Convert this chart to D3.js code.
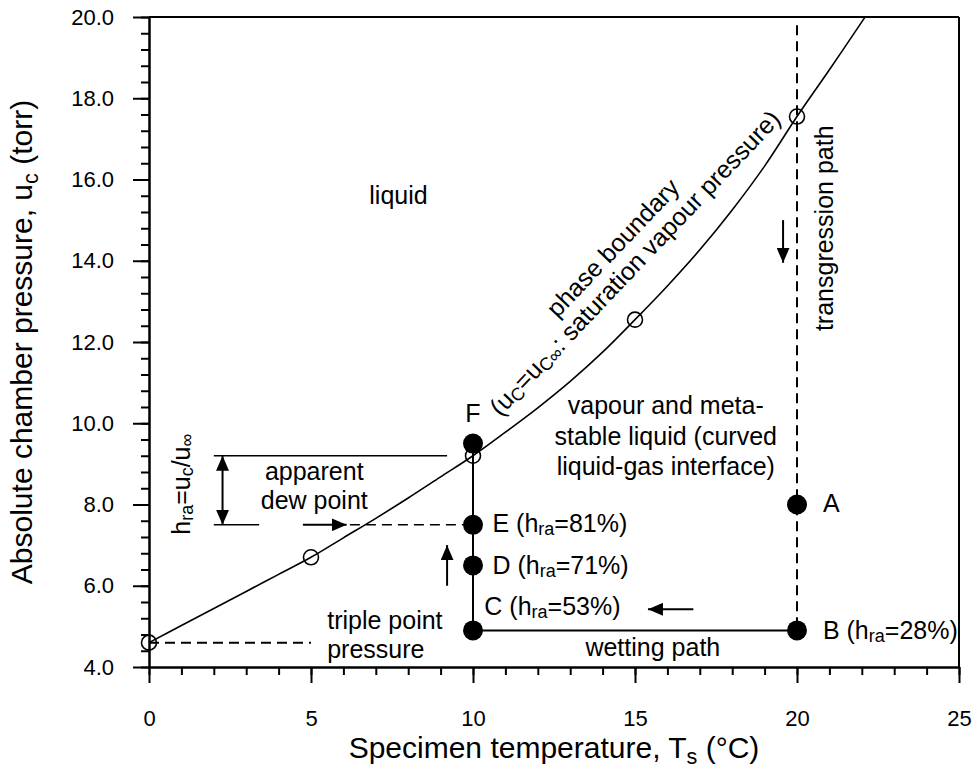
<!DOCTYPE html>
<html><head><meta charset="utf-8">
<script src="https://cdn.jsdelivr.net/npm/d3@7"></script>
<style>
body{margin:0;background:#fff}
text{font-family:"Liberation Sans",Arial,Helvetica,sans-serif;fill:#000}
</style>
</head><body>
<svg id="chart" width="974" height="769"></svg>
<script>
// ---- data ----
const curveT = [0, 1, 2, 3, 4, 5, 6, 7, 8, 9, 10, 11, 12, 13, 14, 15, 16, 17, 18, 19, 20, 21, 22, 22.1];
const curveP = [4.6, 5.02, 5.44, 5.86, 6.28, 6.7, 7.18, 7.66, 8.16, 8.68, 9.2, 9.78, 10.38, 11.03, 11.75, 12.55, 13.38, 14.27, 15.25, 16.33, 17.55, 18.7, 19.88, 20.0];
const openT = [0, 5, 10, 15, 20];
const openP = [4.6, 6.7, 9.2, 12.55, 17.55];
const pointNames = ["F", "E", "D", "C", "B", "A"];
const pointT = [10, 10, 10, 10, 20, 20];
const pointP = [9.5, 7.5, 6.5, 4.9, 4.9, 8.0];
const xTicks = [0, 5, 10, 15, 20, 25];
const xMinor = d3.range(0, 26, 1);
const yTicks = [4, 6, 8, 10, 12, 14, 16, 18, 20];
const yMinor = d3.range(4, 20.01, 0.4);

const W = 974, H = 769;
const m = {left: 149, right: 15, top: 17, bottom: 102};
const svg = d3.select("#chart");
const x = d3.scaleLinear().domain([0, 25]).range([m.left, W - m.right]);
const y = d3.scaleLinear().domain([4, 20]).range([H - m.bottom, m.top]);

// arrow marker
const defs = svg.append("defs");
defs.append("marker").attr("id", "ah").attr("viewBox", "0 0 15 13")
  .attr("refX", 15).attr("refY", 6.5).attr("markerWidth", 15).attr("markerHeight", 13)
  .attr("markerUnits", "userSpaceOnUse").attr("orient", "auto-start-reverse")
  .append("path").attr("d", "M0,0L15,6.5L0,13Z").attr("fill", "#000");

// frame (top & right)
svg.append("line").attr("x1", x(0)).attr("x2", x(25)).attr("y1", y(20)).attr("y2", y(20)).attr("stroke", "#000").attr("stroke-width", 2);
svg.append("line").attr("x1", x(25)).attr("x2", x(25)).attr("y1", y(20)).attr("y2", y(4)).attr("stroke", "#000").attr("stroke-width", 2);

// axes
const gx = svg.append("g").attr("transform", `translate(0,${y(4)})`);
gx.call(d3.axisBottom(x).tickValues(xMinor).tickSize(8).tickSizeOuter(0).tickFormat(""));
const gx2 = svg.append("g").attr("transform", `translate(0,${y(4)})`);
gx2.call(d3.axisBottom(x).tickValues(xTicks).tickSize(16).tickSizeOuter(0).tickPadding(27).tickFormat(d3.format("d")));
const gy = svg.append("g").attr("transform", `translate(${x(0)},0)`);
gy.call(d3.axisLeft(y).tickValues(yMinor).tickSize(8).tickSizeOuter(0).tickFormat(""));
const gy2 = svg.append("g").attr("transform", `translate(${x(0)},0)`);
gy2.call(d3.axisLeft(y).tickValues(yTicks).tickSize(16).tickSizeOuter(0).tickPadding(19).tickFormat(d3.format(".1f")));
svg.selectAll(".domain").attr("stroke-width", 2);
svg.selectAll(".tick line").attr("stroke-width", 2);
svg.selectAll(".tick text").attr("font-size", 22).attr("font-family", "Liberation Sans, Arial, sans-serif");

// helper for text with subscripts: parts = [[str, isSub], ...]
function rich(g, parts, size) {
  const t = g.append("text").attr("font-size", size);
  parts.forEach(([s, sub]) => {
    t.append("tspan").text(s)
      .attr("font-size", sub ? size * 0.72 : size)
      .attr("baseline-shift", sub ? "-28%" : null);
  });
  return t;
}

// axis titles
rich(svg.append("g").attr("transform", `translate(${(x(0) + x(25)) / 2},758)`),
  [["Specimen temperature, T", 0], ["s", 1], [" (°C)", 0]], 30).attr("text-anchor", "middle");
rich(svg.append("g").attr("transform", `translate(32,${(y(4) + y(20)) / 2}) rotate(-90)`),
  [["Absolute chamber pressure, u", 0], ["c", 1], [" (torr)", 0]], 30).attr("text-anchor", "middle");

// lines
const dash = "10,6";
function seg(t1, p1, t2, p2, dashed, w) {
  return svg.append("line").attr("x1", x(t1)).attr("y1", y(p1)).attr("x2", x(t2)).attr("y2", y(p2))
    .attr("stroke", "#000").attr("stroke-width", w || 2).attr("stroke-dasharray", dashed ? dash : null);
}
seg(0, 4.6, 5, 4.6, true);                 // triple point pressure
seg(20, 19.8, 20, 4.9, true);              // transgression path
seg(10, 4.9, 20, 4.9, false);              // wetting path
seg(10, 4.9, 10, 9.5, false);              // vertical at 10
seg(2, 9.2, 9.2, 9.2, false, 1.6);         // hra bracket top
seg(2, 7.5, 3.4, 7.5, false, 1.6);         // hra bracket bottom
seg(6.2, 7.5, 9.75, 7.5, true, 1.6);       // apparent dew point dashed

// arrows
function arrow(t1, p1, t2, p2, both) {
  const l = seg(t1, p1, t2, p2, false, 2).attr("marker-end", "url(#ah)");
  if (both) l.attr("marker-start", "url(#ah)");
}
arrow(2.27, 9.2, 2.27, 7.5, true);
arrow(4.75, 7.5, 6.1, 7.5);
arrow(9.2, 6.0, 9.2, 7.0);
arrow(16.8, 5.42, 15.4, 5.42);
arrow(19.57, 15.0, 19.57, 13.95);

// saturation curve
svg.append("path").datum(d3.zip(curveT, curveP))
  .attr("d", d3.line().x(d => x(d[0])).y(d => y(d[1])).curve(d3.curveCatmullRom))
  .attr("fill", "none").attr("stroke", "#000").attr("stroke-width", 1.6);

// open circles
svg.selectAll(".oc").data(d3.zip(openT, openP)).join("circle").attr("class", "oc")
  .attr("cx", d => x(d[0])).attr("cy", d => y(d[1])).attr("r", 7.5)
  .attr("fill", "none").attr("stroke", "#000").attr("stroke-width", 1.6);

// filled points
svg.selectAll(".fp").data(d3.zip(pointT, pointP)).join("circle").attr("class", "fp")
  .attr("cx", d => x(d[0])).attr("cy", d => y(d[1])).attr("r", 10).attr("fill", "#000");

// annotations
const fs = 25;
function label(px, py, parts, anchor, rot) {
  const g = svg.append("g").attr("transform", `translate(${px},${py})` + (rot ? ` rotate(${rot})` : ""));
  return rich(g, parts, fs).attr("text-anchor", anchor || "start").attr("dominant-baseline", "middle");
}
label(x(7.7), y(15.57), [["liquid", 0]], "middle");
label(x(10), y(10.2), [["F", 0]], "middle");
label(x(10.6), y(7.5), [["E (h", 0], ["ra", 1], ["=81%)", 0]]);
label(x(10.6), y(6.45), [["D (h", 0], ["ra", 1], ["=71%)", 0]]);
label(x(10.35), y(5.45), [["C (h", 0], ["ra", 1], ["=53%)", 0]]);
label(x(20.8), y(4.85), [["B (h", 0], ["ra", 1], ["=28%)", 0]]);
label(x(20.8), y(8.0), [["A", 0]]);
label(x(15.55), y(4.45), [["wetting path", 0]], "middle");
label(x(5.5), y(5.1), [["triple point", 0]]);
label(x(5.5), y(4.4), [["pressure", 0]]);
label(x(5.1), y(8.78), [["apparent", 0]], "middle");
label(x(5.1), y(8.06), [["dew point", 0]], "middle");
label(x(15.95), y(10.4), [["vapour and meta-", 0]], "middle");
label(x(15.95), y(9.63), [["stable liquid (curved", 0]], "middle");
label(x(15.95), y(8.9), [["liquid-gas interface)", 0]], "middle");
label(x(20.9), y(14.8), [["transgression path", 0]], "middle", -90);
label(x(1.05), y(8.5), [["h", 0], ["ra", 1], ["=u", 0], ["c", 1], ["/u", 0], ["∞", 1]], "middle", -90);
label(614, 249, [["phase boundary", 0]], "middle", -46.5);
label(636, 264, [["(u", 0], ["C", 1], ["=u", 0], ["C∞", 1], [": saturation vapour pressure)", 0]], "middle", -46.5);
</script>
</body></html>
